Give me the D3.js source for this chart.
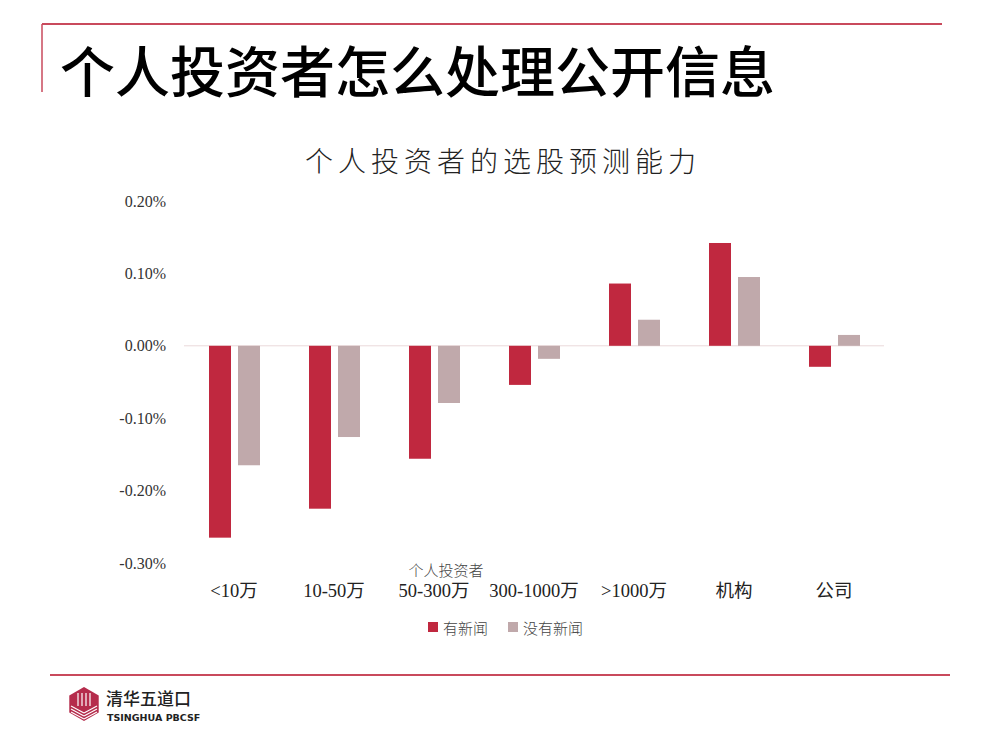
<!DOCTYPE html>
<html>
<head>
<meta charset="utf-8">
<script src="https://cdn.jsdelivr.net/npm/d3@7"></script>
<style>
  body { margin: 0; background: #fff; }
</style>
</head>
<body>
<svg id="chart" width="1000" height="750"></svg>
<script>
var categories = ["<10万", "10-50万", "50-300万", "300-1000万", ">1000万", "机构", "公司"];
var withNews = [-0.265, -0.225, -0.156, -0.054, 0.086, 0.142, -0.029];
var noNews = [-0.165, -0.126, -0.079, -0.018, 0.036, 0.095, 0.015];
var seriesNames = ["有新闻", "没有新闻"];
var yTicks = [0.2, 0.1, 0, -0.1, -0.2, -0.3];

var red = "#c0283f", grey = "#c0a9ab";
var serif = "'Liberation Serif', 'Noto Sans CJK SC', serif";
var cjk = "'Noto Sans CJK SC', sans-serif";

var svg = d3.select("#chart");

// slide frame
svg.append("line").attr("x1", 42).attr("x2", 942).attr("y1", 24).attr("y2", 24)
    .attr("stroke", "#c94a5c").attr("stroke-width", 2);
svg.append("line").attr("x1", 42).attr("x2", 42).attr("y1", 24).attr("y2", 92)
    .attr("stroke", "#c94a5c").attr("stroke-width", 1.5);
svg.append("text").attr("x", 60).attr("y", 68)
    .attr("dominant-baseline", "central")
    .style("font-family", cjk).style("font-size", "55px").style("font-weight", 500)
    .attr("fill", "#000").text("个人投资者怎么处理公开信息");

svg.append("line").attr("x1", 50).attr("x2", 950).attr("y1", 675).attr("y2", 675)
    .attr("stroke", "#c94a5c").attr("stroke-width", 2);

// logo
var hx = 84, hy = 704, hr = 17;
svg.append("polygon")
    .attr("points", d3.range(6).map(function(i) {
        var a = Math.PI / 3 * i - Math.PI / 2;
        return (hx + hr * Math.cos(a)) + "," + (hy + hr * Math.sin(a));
    }).join(" "))
    .attr("fill", "#b52c4c");
[-6, -2, 2, 6].forEach(function(dx) {
    svg.append("line").attr("x1", hx + dx).attr("x2", hx + dx).attr("y1", hy - 11).attr("y2", hy + 2)
        .attr("stroke", "#fff").attr("stroke-width", 1.2);
});
[0, 3, 6].forEach(function(d) {
    svg.append("line").attr("x1", hx - 13).attr("x2", hx).attr("y1", hy + 2 + d).attr("y2", hy + 9 + d)
        .attr("stroke", "#fff").attr("stroke-width", 1.1);
    svg.append("line").attr("x1", hx + 13).attr("x2", hx).attr("y1", hy + 2 + d).attr("y2", hy + 9 + d)
        .attr("stroke", "#fff").attr("stroke-width", 1.1);
});
svg.append("text").attr("x", 106).attr("y", 705)
    .style("font-family", cjk).style("font-size", "17px").style("font-weight", 500)
    .attr("fill", "#222").text("清华五道口");
svg.append("text").attr("x", 107).attr("y", 721)
    .style("font-family", "'DejaVu Sans', sans-serif").style("font-size", "9.5px").style("font-weight", "bold")
    .attr("fill", "#222").text("TSINGHUA PBCSF");

// chart
svg.append("text").attr("x", 503).attr("y", 160)
    .attr("text-anchor", "middle").attr("dominant-baseline", "central")
    .style("font-family", cjk).style("font-size", "28px").style("font-weight", 300)
    .style("letter-spacing", "5px")
    .attr("fill", "#222").text("个人投资者的选股预测能力");

var x = d3.scaleBand().domain(categories).range([184, 884]);
var y = d3.scaleLinear().domain([-0.3, 0.2]).range([563, 201]);

var yAxis = svg.append("g").attr("transform", "translate(166,0)")
    .call(d3.axisLeft(y).tickValues(yTicks).tickSize(0).tickPadding(0)
        .tickFormat(function(d) { return (d < 0 ? "-" : "") + Math.abs(d).toFixed(2) + "%"; }));
yAxis.select(".domain").remove();
yAxis.selectAll("text")
    .style("font-family", serif).style("font-size", "16px").attr("fill", "#333");

svg.append("line").attr("x1", 184).attr("x2", 884).attr("y1", y(0)).attr("y2", y(0))
    .attr("stroke", "#ead9db").attr("stroke-width", 1);

var bw = 22;
var g = svg.append("g");
g.selectAll("rect.news").data(withNews).enter().append("rect")
    .attr("x", function(d, i) { return x(categories[i]) + x.bandwidth() / 2 - 25; })
    .attr("y", function(d) { return y(Math.max(0, d)); })
    .attr("width", bw)
    .attr("height", function(d) { return Math.abs(y(d) - y(0)); })
    .attr("fill", red);
g.selectAll("rect.nonews").data(noNews).enter().append("rect")
    .attr("x", function(d, i) { return x(categories[i]) + x.bandwidth() / 2 + 4; })
    .attr("y", function(d) { return y(Math.max(0, d)); })
    .attr("width", bw)
    .attr("height", function(d) { return Math.abs(y(d) - y(0)); })
    .attr("fill", grey);

var xAxis = svg.append("g").attr("transform", "translate(0,591)")
    .call(d3.axisBottom(x).tickSize(0).tickPadding(0));
xAxis.select(".domain").remove();
xAxis.selectAll("text").attr("dy", null).attr("dominant-baseline", "central")
    .style("font-family", serif).style("font-size", "18.5px").attr("fill", "#222");

svg.append("text").attr("x", x(categories[2]) + x.bandwidth() / 2 + 12).attr("y", 569)
    .attr("text-anchor", "middle").attr("dominant-baseline", "central")
    .style("font-family", cjk).style("font-size", "15px").style("font-weight", 300)
    .attr("fill", "#444").text("个人投资者");

// legend
var legend = svg.append("g").attr("transform", "translate(428,627)");
var lx = [0, 80];
seriesNames.forEach(function(name, i) {
    legend.append("rect").attr("x", lx[i]).attr("y", -5).attr("width", 10).attr("height", 10)
        .attr("fill", i === 0 ? red : grey);
    legend.append("text").attr("x", lx[i] + 15).attr("y", 0)
        .attr("dominant-baseline", "central")
        .style("font-family", cjk).style("font-size", "15px").style("font-weight", 300)
        .attr("fill", "#444").text(name);
});
</script>
</body>
</html>
